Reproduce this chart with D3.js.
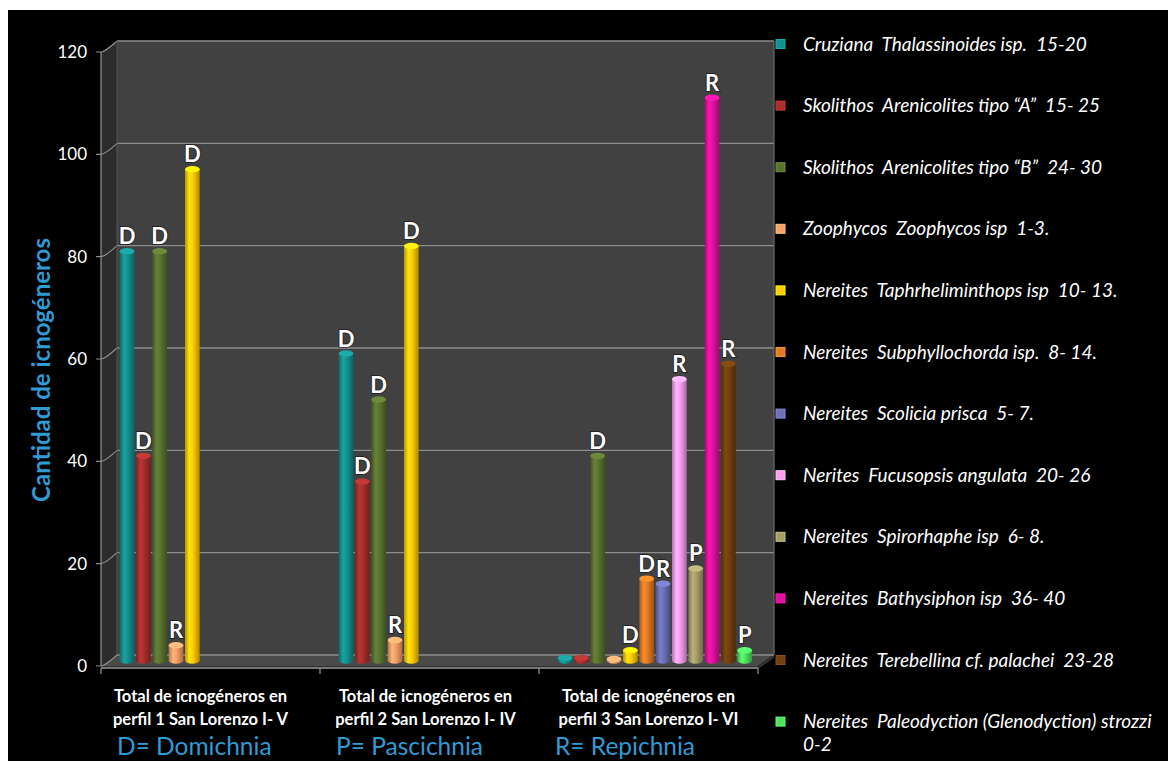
<!DOCTYPE html>
<html>
<head>
<meta charset="utf-8">
<script src="https://cdn.jsdelivr.net/npm/d3@7/dist/d3.min.js"></script>
<style>
  html, body { margin: 0; padding: 0; background: #ffffff; }
  svg { display: block; }
  text { font-family: Lato, "Open Sans", "DejaVu Sans", sans-serif; }
</style>
</head>
<body>
<svg id="chart" width="1168" height="761"></svg>
<script>
// Categories (profiles) on the x axis
const categories = [
  ["Total de icnogéneros en", "perfil 1 San Lorenzo I- V"],
  ["Total de icnogéneros en", "perfil 2 San Lorenzo I- IV"],
  ["Total de icnogéneros en", "perfil 3 San Lorenzo I- VI"]
];

// Ichnogenera (series)
const seriesNames = [
  ["Cruziana", "Thalassinoides isp.  15-20"],
  ["Skolithos", "Arenicolites tipo \u201CA\u201D  15- 25"],
  ["Skolithos", "Arenicolites tipo \u201CB\u201D  24- 30"],
  ["Zoophycos", "Zoophycos isp  1-3."],
  ["Nereites", "Taphrheliminthops isp  10- 13."],
  ["Nereites", "Subphyllochorda isp.  8- 14."],
  ["Nereites", "Scolicia prisca  5- 7."],
  ["Nerites", "Fucusopsis angulata  20- 26"],
  ["Nereites", "Spirorhaphe isp  6- 8."],
  ["Nereites", "Bathysiphon isp  36- 40"],
  ["Nereites", "Terebellina cf. palachei  23-28"],
  ["Nereites", "Paleodyction (Glenodyction) strozzi", "0-2"]
];

// Counts per profile, one entry per ichnogenus
const perfil1Values = [80, 40, 80, 3, 96, 0, 0, 0, 0, 0, 0, 0];
const perfil2Values = [60, 35, 51, 4, 81, 0, 0, 0, 0, 0, 0, 0];
const perfil3Values = [0.5, 0.5, 40, 0.3, 2, 16, 15, 55, 18, 110, 58, 2];

// Ethological class shown above each bar (D, P, R)
const perfil1Types = ["D", "D", "D", "R", "D", null, null, null, null, null, null, null];
const perfil2Types = ["D", "D", "D", "R", "D", null, null, null, null, null, null, null];
const perfil3Types = [null, null, "D", null, "D", "D", "R", "R", "P", "R", "R", "P"];

// Y axis ticks
const yTicks = [0, 20, 40, 60, 80, 100, 120];

// Ethological class key
const classKey = ["D= Domichnia", "P= Pascichnia", "R= Repichnia"];

const seriesColors = [
  "#15908f", "#a5302d", "#5a7430", "#f7a068", "#ffcb05", "#e27a26",
  "#6c70b4", "#fb9ef0", "#a59f6a", "#e0129c", "#70400f", "#4fe25e"
];

const groupValues = [perfil1Values, perfil2Values, perfil3Values];
const groupTypes = [perfil1Types, perfil2Types, perfil3Types];

const svg = d3.select("#chart");
const W = 1168, H = 761;

// black canvas with thin white margin at top/left
svg.append("rect").attr("x", 0).attr("y", 0).attr("width", W).attr("height", H).attr("fill", "#ffffff");
svg.append("rect").attr("x", 8).attr("y", 10).attr("width", W - 8).attr("height", H - 10).attr("fill", "#000000");

// 3D depth offset (back wall relative to front axis)
const DX = 16, DY = -11;

const y = d3.scaleLinear().domain([0, 120]).range([666, 52]);
const x = d3.scaleBand().domain(d3.range(categories.length)).range([101, 758]).padding(0);
const bw = x.bandwidth();
const xi = d3.scaleBand().domain(d3.range(seriesNames.length)).range([bw * 0.045, bw * 0.94]).padding(0);

const defs = svg.append("defs");

// cylinder gradients
seriesColors.forEach((c, i) => {
  const base = d3.color(c);
  const g = defs.append("linearGradient").attr("id", "cyl" + i)
    .attr("x1", "0%").attr("x2", "100%").attr("y1", "0%").attr("y2", "0%");
  g.append("stop").attr("offset", "0%").attr("stop-color", base.darker(0.9));
  g.append("stop").attr("offset", "30%").attr("stop-color", base.brighter(0.35));
  g.append("stop").attr("offset", "55%").attr("stop-color", base);
  g.append("stop").attr("offset", "100%").attr("stop-color", base.darker(1.1));
});

const gridColor = "#8d8d8d";
const x0 = x.range()[0], x1 = x.range()[1];

// back wall
svg.append("rect")
  .attr("x", x0 + DX).attr("y", y(120) + DY)
  .attr("width", x1 - x0).attr("height", y(0) - y(120))
  .attr("fill", "#414141");

// left side wall
svg.append("path")
  .attr("d", `M${x0},${y(120)} L${x0 + DX},${y(120) + DY} L${x0 + DX},${y(0) + DY} L${x0},${y(0)} Z`)
  .attr("fill", "#2c2c2c");

// floor
svg.append("path")
  .attr("d", `M${x0},${y(0)} L${x1},${y(0)} L${x1 + DX},${y(0) + DY} L${x0 + DX},${y(0) + DY} Z`)
  .attr("fill", "#4a4a4a");
// floor front slab edge
svg.append("path")
  .attr("d", `M${x0},${y(0)} L${x1},${y(0)} L${x1 + DX},${y(0) + DY} L${x1 + DX},${y(0) + DY + 3} L${x1},${y(0) + 3} L${x0},${y(0) + 3} Z`)
  .attr("fill", "#303030");

// gridlines on back wall + side wall
yTicks.forEach(t => {
  svg.append("line")
    .attr("x1", x0 + DX).attr("x2", x1 + DX)
    .attr("y1", y(t) + DY).attr("y2", y(t) + DY)
    .attr("stroke", gridColor).attr("stroke-width", 1.3);
  svg.append("path")
    .attr("d", `M${x0 - 5},${y(t)} L${x0},${y(t)} Q${x0 + 4},${y(t)} ${x0 + DX},${y(t) + DY}`)
    .attr("fill", "none").attr("stroke", gridColor).attr("stroke-width", 1.2);
});

// wall edges
svg.append("line").attr("x1", x0 + DX).attr("x2", x0 + DX).attr("y1", y(120) + DY).attr("y2", y(0) + DY)
  .attr("stroke", "#555").attr("stroke-width", 1);
svg.append("line").attr("x1", x1 + DX).attr("x2", x1 + DX).attr("y1", y(120) + DY).attr("y2", y(0) + DY)
  .attr("stroke", "#6a6a6a").attr("stroke-width", 1.2);
// y axis line
svg.append("line").attr("x1", x0).attr("x2", x0).attr("y1", y(120)).attr("y2", y(0))
  .attr("stroke", gridColor).attr("stroke-width", 1.3);
// x axis line
svg.append("line").attr("x1", x0).attr("x2", x1).attr("y1", y(0) + 2).attr("y2", y(0) + 2)
  .attr("stroke", gridColor).attr("stroke-width", 1.3);
d3.range(categories.length + 1).forEach(k => {
  const xx = k < categories.length ? x(k) : x1;
  svg.append("line").attr("x1", xx).attr("x2", xx).attr("y1", y(0) + 2).attr("y2", y(0) + 8)
    .attr("stroke", gridColor).attr("stroke-width", 1.3);
});

// y tick labels
svg.append("g").selectAll("text").data(yTicks).join("text")
  .attr("x", 87).attr("y", d => y(d)).attr("dy", "0.35em")
  .attr("text-anchor", "end").attr("fill", "#ffffff")
  .attr("font-size", 17).text(d => d);

// y axis title
svg.append("text")
  .attr("transform", `translate(50, ${370}) rotate(-90)`)
  .attr("text-anchor", "middle").attr("fill", "#2f9bd4")
  .attr("font-size", 24).attr("font-weight", 700)
  .text("Cantidad de icnogéneros");

// bars as cylinders
const barW = xi.bandwidth() * 0.9;
const ry = 3.2;
const bars = svg.append("g");
const labels = svg.append("g");
groupValues.forEach((vals, gi) => {
  vals.forEach((v, si) => {
    if (!v) return;
    const cx = x(gi) + xi(si) + xi.bandwidth() / 2 + DX / 2;
    const yb = y(0) + DY / 2;
    const yt = y(v) + DY / 2;
    const base = d3.color(seriesColors[si]);
    const g = bars.append("g");
    g.append("ellipse").attr("cx", cx).attr("cy", yb).attr("rx", barW / 2).attr("ry", ry)
      .attr("fill", `url(#cyl${si})`);
    g.append("rect").attr("x", cx - barW / 2).attr("y", yt).attr("width", barW).attr("height", Math.max(0, yb - yt))
      .attr("fill", `url(#cyl${si})`);
    g.append("ellipse").attr("cx", cx).attr("cy", yt).attr("rx", barW / 2).attr("ry", ry)
      .attr("fill", base.brighter(0.5));
    const t = groupTypes[gi][si];
    if (t) {
      labels.append("text")
        .attr("x", cx).attr("y", yt - 7)
        .attr("text-anchor", "middle").attr("fill", "#ffffff")
        .attr("font-size", 22).attr("font-weight", 700)
        .attr("stroke", "rgba(0,0,0,0.45)").attr("stroke-width", 2).attr("paint-order", "stroke")
        .text(t);
    }
  });
});

// category labels
categories.forEach((lines, gi) => {
  const cxl = x(gi) + bw / 2 - (gi === 0 ? 10 : gi === 1 ? 4 : 0);
  const tx = svg.append("text")
    .attr("x", cxl).attr("y", 702)
    .attr("text-anchor", "middle").attr("fill", "#ffffff")
    .attr("font-size", 16.5).attr("font-weight", 700);
  lines.forEach((l, li) => {
    tx.append("tspan").attr("x", cxl).attr("dy", li === 0 ? 0 : 23).text(l);
  });
});

// ethological class key
classKey.forEach((k, i) => {
  svg.append("text")
    .attr("x", x(i) + 16).attr("y", 755)
    .attr("fill", "#2f9bd4").attr("font-size", 24.5)
    .text(k);
});

// legend
const legend = svg.append("g");
seriesNames.forEach((n, i) => {
  const ly = 44 + i * 61.6;
  const c = d3.color(seriesColors[i]);
  legend.append("rect").attr("x", 776).attr("y", ly - 4.5).attr("width", 9).attr("height", 9)
    .attr("fill", c).attr("stroke", c.brighter(0.6)).attr("stroke-width", 1);
  const t = legend.append("text")
    .attr("x", 803).attr("y", ly).attr("dy", "0.35em")
    .attr("fill", "#ffffff").attr("font-size", 19).attr("font-style", "italic")
    .attr("xml:space", "preserve").style("white-space", "pre");
  const first = t.append("tspan").text(n[0] + "  " + n[1]);
  // keep long entries inside the canvas
  const len = first.node().getComputedTextLength();
  if (803 + len > W - 2) {
    first.attr("textLength", W - 2 - 803).attr("lengthAdjust", "spacingAndGlyphs");
  }
  if (n[2]) t.append("tspan").attr("x", 803).attr("dy", 23).text(n[2]);
});
</script>
</body>
</html>
